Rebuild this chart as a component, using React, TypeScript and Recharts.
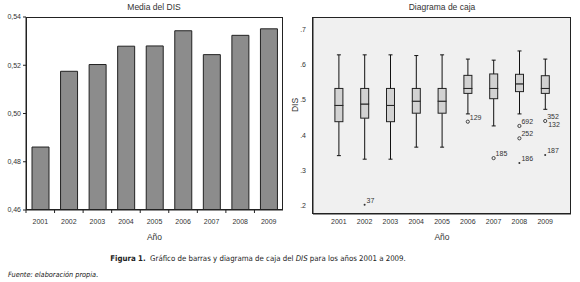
import React from 'react';
import { BarChart, Bar, ComposedChart, Scatter, XAxis, YAxis, CartesianGrid } from 'recharts';

const years = ['2001', '2002', '2003', '2004', '2005', '2006', '2007', '2008', '2009'];
const meanDIS = [0.4861, 0.5175, 0.5203, 0.5279, 0.528, 0.5343, 0.5244, 0.5324, 0.5351];
const meanTicks = [0.46, 0.48, 0.5, 0.52, 0.54];

// boxplot stats per year
const whiskerLow = [0.342, 0.332, 0.332, 0.366, 0.366, 0.46, 0.426, 0.46, 0.473];
const q1 = [0.438, 0.448, 0.438, 0.462, 0.462, 0.518, 0.503, 0.523, 0.518];
const median = [0.484, 0.488, 0.484, 0.496, 0.496, 0.532, 0.532, 0.545, 0.532];
const q3 = [0.532, 0.532, 0.532, 0.532, 0.532, 0.569, 0.573, 0.572, 0.568];
const whiskerHigh = [0.627, 0.627, 0.627, 0.625, 0.627, 0.615, 0.612, 0.638, 0.615];
const boxTicks = [0.2, 0.3, 0.4, 0.5, 0.6, 0.7];

const outliers = [
  { year: '2006', v: 0.438, id: '129', kind: 'o' },
  { year: '2007', v: 0.335, id: '185', kind: 'o' },
  { year: '2008', v: 0.426, id: '692', kind: 'o' },
  { year: '2008', v: 0.391, id: '252', kind: 'o' },
  { year: '2009', v: 0.44, id: '352', kind: 'o' },
];
const extremes = [
  { year: '2002', v: 0.203, id: '37', kind: '*' },
  { year: '2008', v: 0.321, id: '186', kind: '*' },
  { year: '2009', v: 0.344, id: '187', kind: '*' },
];
// second label stacked on the same point
const extraLabels: Record<string, string> = { '352': '132' };

const barRows = years.map((year, i) => ({ year, mean: meanDIS[i] }));
const boxRows = years.map((year, i) => ({
  year,
  base: whiskerLow[i],
  wLow: q1[i] - whiskerLow[i],
  boxLow: median[i] - q1[i],
  boxHigh: q3[i] - median[i],
  wHigh: whiskerHigh[i] - q3[i],
}));

const font = '"Liberation Sans", Arial, sans-serif';
const capFont = '"Liberation Sans Narrow", "DejaVu Sans Condensed", sans-serif';
const ink = '#333333';
const comma = (v: number) => v.toFixed(2).replace('.', ',');
const dotFmt = (v: number) => v.toFixed(1).replace(/^0/, '');

const YearTick = (props: any) => {
  const { x, y, payload } = props;
  const step = 257 / 9;
  return (
    <g>
      <line x1={x - step / 2} x2={x - step / 2} y1={y} y2={y + 3} stroke="#222" />
      <text x={x} y={y + 13.5} textAnchor="middle" fontSize={7} fill={ink} fontFamily={font}>
        {payload.value}
      </text>
    </g>
  );
};

const WhiskerLow = (props: any) => {
  const { x, y, width, height } = props;
  const cx = x + width / 2;
  return (
    <g stroke="#111" strokeWidth={1}>
      <line x1={cx} x2={cx} y1={y} y2={y + height} />
      <line x1={cx - 2} x2={cx + 2} y1={y + height} y2={y + height} />
    </g>
  );
};

const WhiskerHigh = (props: any) => {
  const { x, y, width, height } = props;
  const cx = x + width / 2;
  return (
    <g stroke="#111" strokeWidth={1}>
      <line x1={cx} x2={cx} y1={y} y2={y + height} />
      <line x1={cx - 2} x2={cx + 2} y1={y} y2={y} />
    </g>
  );
};

const BoxPart = (props: any) => {
  const { x, y, width, height } = props;
  return <rect x={x} y={y} width={width} height={height} fill="#d2d2d2" stroke="#222" strokeWidth={1} />;
};

const OutlierDot = (props: any) => {
  const { cx, cy, payload } = props;
  if (!Number.isFinite(cx) || !Number.isFinite(cy)) return null;
  const extra = extraLabels[payload.id];
  return (
    <g>
      {payload.kind === 'o' ? (
        <circle cx={cx} cy={cy} r={1.6} fill="none" stroke={ink} strokeWidth={0.9} />
      ) : (
        <circle cx={cx} cy={cy} r={1} fill={ink} />
      )}
      <text x={cx + 2} y={cy - 2} fontSize={7} fill={ink} fontFamily={font}>{payload.id}</text>
      {extra && (
        <text x={cx + 3} y={cy + 6} fontSize={7} fill={ink} fontFamily={font}>{extra}</text>
      )}
    </g>
  );
};

const title = (cx: number): React.CSSProperties => ({
  position: 'absolute', left: cx - 60, width: 120, top: 1, textAlign: 'center',
  fontFamily: font, fontSize: 8.5, color: ink, lineHeight: '12px',
});

const axisLabel = { value: 'Año', position: 'insideBottom' as const, offset: 0, fontSize: 8.5, fill: ink, fontFamily: font };

export default function App() {
  return (
    <div style={{ position: 'absolute', left: 0, top: 0, width: 580, height: 282, background: '#fff', overflow: 'hidden' }}>
      <div style={title(154)}>Media del DIS</div>
      <div style={title(442)}>Diagrama de caja</div>

      <div style={{ position: 'absolute', left: 0, top: 0 }}>
        <BarChart width={290} height={244} data={barRows} margin={{ top: 17, right: 7, bottom: 4, left: 0 }}>
          <XAxis
            dataKey="year" height={30} interval={0} tick={<YearTick />} tickLine={false}
            tickSize={0} tickMargin={0} axisLine={{ stroke: '#222' }} label={axisLabel}
          />
          <YAxis
            width={26} domain={[0.46, 0.54]} ticks={meanTicks} allowDataOverflow tickFormatter={comma}
            tick={{ fontSize: 7, fill: ink, fontFamily: font }} tickSize={3} tickMargin={2}
            axisLine={{ stroke: '#222' }} tickLine={{ stroke: '#222' }}
          />
          <Bar dataKey="mean" fill="#8c8c8c" stroke="#222" strokeWidth={1} barSize={17} isAnimationActive={false} />
        </BarChart>
      </div>
      <div style={{ position: 'absolute', left: 26, top: 17, width: 257, height: 193, border: '1px solid #222', boxSizing: 'border-box', pointerEvents: 'none' }} />

      <div style={{ position: 'absolute', left: 290, top: 0 }}>
        <ComposedChart width={290} height={244} data={boxRows} margin={{ top: 17, right: 9, bottom: 4, left: 0 }}>
          <CartesianGrid horizontal={false} vertical={false} fill="#f0f0f0" />
          <XAxis
            dataKey="year" height={26} interval={0} allowDuplicatedCategory={false}
            padding={{ left: 12.9, right: 12.9 }} tickLine={false} tickSize={0} tickMargin={5}
            axisLine={{ stroke: '#222' }} tick={{ fontSize: 7, fill: ink, fontFamily: font }} label={axisLabel}
          />
          <YAxis
            width={23} domain={[0.177, 0.734]} ticks={boxTicks} allowDataOverflow tickFormatter={dotFmt}
            tickLine={false} tickSize={0} tickMargin={7} axisLine={{ stroke: '#222' }}
            tick={{ fontSize: 7, fill: ink, fontFamily: font }}
          />
          <Bar dataKey="base" stackId="b" fill="none" barSize={8} isAnimationActive={false} />
          <Bar dataKey="wLow" stackId="b" shape={<WhiskerLow />} barSize={8} isAnimationActive={false} />
          <Bar dataKey="boxLow" stackId="b" shape={<BoxPart />} barSize={8} isAnimationActive={false} />
          <Bar dataKey="boxHigh" stackId="b" shape={<BoxPart />} barSize={8} isAnimationActive={false} />
          <Bar dataKey="wHigh" stackId="b" shape={<WhiskerHigh />} barSize={8} isAnimationActive={false} />
          <Scatter data={outliers} dataKey="v" shape={<OutlierDot />} isAnimationActive={false} />
          <Scatter data={extremes} dataKey="v" shape={<OutlierDot />} isAnimationActive={false} />
        </ComposedChart>
      </div>
      <div style={{ position: 'absolute', left: 312, top: 17, width: 259, height: 197, border: '1px solid #222', boxSizing: 'border-box', pointerEvents: 'none' }} />
      <div style={{ position: 'absolute', left: 288, top: 100, fontFamily: font, fontSize: 8.5, color: ink, transform: 'rotate(-90deg)', transformOrigin: 'center' }}>DIS</div>

      <div style={{ position: 'absolute', left: 0, width: 516, top: 254, textAlign: 'center', fontFamily: capFont, fontSize: 7.8, color: '#222' }}>
        <b>Figura 1.</b>&nbsp; Gráfico de barras y diagrama de caja del <i>DIS</i> para los años 2001 a 2009.
      </div>
      <div style={{ position: 'absolute', left: 8, top: 269.5, fontFamily: capFont, fontSize: 7.3, fontStyle: 'italic', color: '#222' }}>
        Fuente: elaboración propia.
      </div>
    </div>
  );
}
